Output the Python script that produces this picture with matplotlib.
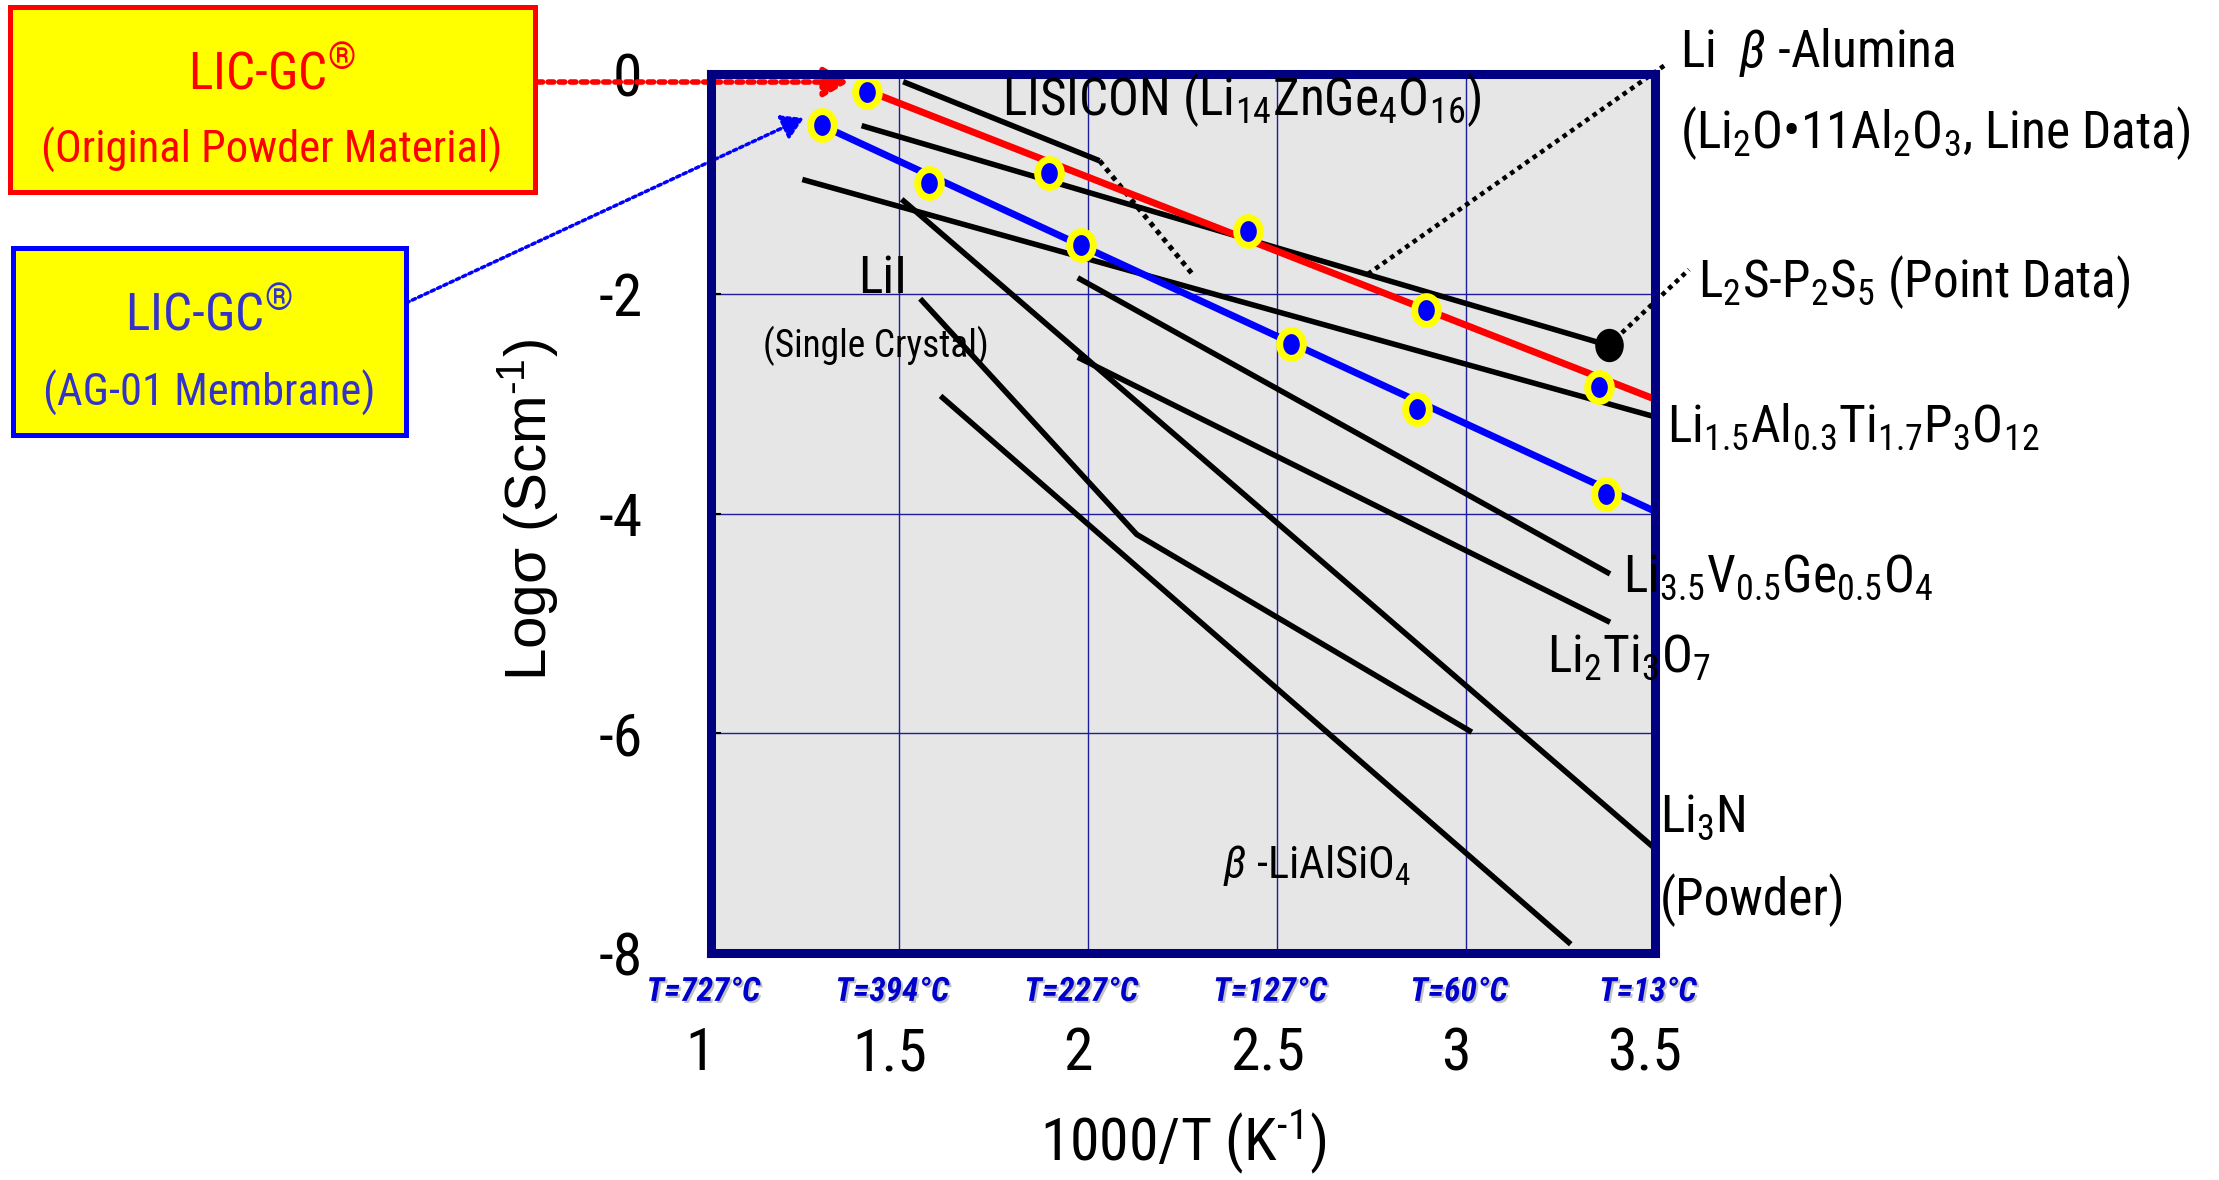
import matplotlib
matplotlib.use('Agg')
import matplotlib.pyplot as plt
import numpy as np
from matplotlib import font_manager as fm
from matplotlib.transforms import ScaledTranslation
from matplotlib.path import Path
import matplotlib.patheffects as pe
from matplotlib.patches import Rectangle

# ---------------- data ----------------
x_ticks = [1, 1.5, 2, 2.5, 3, 3.5]
x_tick_labels = ['1', '1.5', '2', '2.5', '3', '3.5']
y_ticks = [0, -2, -4, -6, -8]
y_tick_labels = ['0', '-2', '-4', '-6', '-8']
temp_labels_c = [727, 394, 227, 127, 60, 13]

# LIC-GC original powder (red)
powder_pts_x = [1.414, 1.896, 2.424, 2.894, 3.351]
powder_pts_y = [-0.16, -0.90, -1.43, -2.15, -2.85]
powder_fit_x = [1.414, 3.5]
powder_fit_y = [-0.15, -2.96]

# LIC-GC AG-01 membrane (blue)
membrane_pts_x = [1.296, 1.578, 1.980, 2.536, 2.869, 3.371]
membrane_pts_y = [-0.46, -0.99, -1.56, -2.455, -3.05, -3.82]
membrane_fit_x = [1.296, 3.5]
membrane_fit_y = [-0.47, -3.98]

# literature lines (black)
lisicon_x = [1.51, 2.03]
lisicon_y = [-0.07, -0.79]
lisicon_ext_x = [2.03, 2.28]
lisicon_ext_y = [-0.79, -1.84]
alumina_x = [1.40, 3.377]
alumina_y = [-0.47, -2.47]
l2s_x = [3.377]
l2s_y = [-2.47]
latp_x = [1.243, 3.5]
latp_y = [-0.96, -3.12]
li3n_x = [1.506, 3.5]
li3n_y = [-1.14, -7.05]
lii_x = [1.555, 2.128, 3.015]
lii_y = [-2.045, -4.19, -5.99]
lvgo_x = [1.972, 3.381]
lvgo_y = [-1.855, -4.55]
lto_x = [1.972, 3.381]
lto_y = [-2.578, -4.99]
lialsio_x = [1.609, 3.277]
lialsio_y = [-2.93, -7.92]

# leader lines to outside labels
alumina_leader_x = [2.74, 3.53]
alumina_leader_y = [-1.82, 0.09]
l2s_leader_x = [3.377, 3.59]
l2s_leader_y = [-2.47, -1.78]

# ---------------- fonts ----------------
names = {f.name for f in fm.fontManager.ttflist}
NARROW = 'Roboto Condensed' if 'Roboto Condensed' in names else 'Liberation Sans'
plt.rcParams['font.family'] = [NARROW, 'DejaVu Sans']
plt.rcParams['mathtext.fontset'] = 'custom'
plt.rcParams['mathtext.rm'] = NARROW
plt.rcParams['mathtext.it'] = NARROW + ':italic'
plt.rcParams['mathtext.default'] = 'regular'
plt.rcParams['axes.unicode_minus'] = False

HY = '\u2010'  # hyphen used in superscripts (reference shows a short hyphen)

W, H = 2219, 1180
DPI = 100
fig = plt.figure(figsize=(W / DPI, H / DPI), dpi=DPI, facecolor='white')

L, R, T, B = 710.5, 1655.0, 74.0, 953.0
ax = fig.add_axes([L / W, 1 - B / H, (R - L) / W, (B - T) / H])
ax.set_xlim(1, 3.5)
ax.set_ylim(-8, 0)
ax.set_facecolor('#e6e6e6')

NAVY = '#000080'
for s in ax.spines.values():
    s.set_color(NAVY)
    s.set_linewidth(6.5)
    s.set_zorder(6)

ax.set_xticks(x_ticks)
ax.set_xticklabels(x_tick_labels, fontsize=43)
ax.set_yticks(y_ticks)
ax.set_yticklabels(y_tick_labels, fontsize=43)
ax.tick_params(axis='x', length=0, pad=52)
ax.tick_params(axis='y', direction='in', length=7, width=1.5, color='black', pad=49)
for lab in ax.get_xticklabels():
    lab.set_transform(lab.get_transform() + ScaledTranslation(-10 / DPI, 0, fig.dpi_scale_trans))

for gx in x_ticks[1:-1]:
    ax.axvline(gx, color='#1c1c9c', lw=1.0, zorder=1)
for gy in y_ticks[1:-1]:
    ax.axhline(gy, color='#1c1c9c', lw=1.0, zorder=1)

ax.set_xlabel('1000/T (K$^{' + HY + '1}$)', fontsize=43, labelpad=0)
ax.xaxis.set_label_coords(0.5, -0.176)
fig.text(527 / W, 1 - 510 / H, 'Log\u03c3 (Scm$^{' + HY + '1}$)', rotation=90, fontsize=42,
         family=['Liberation Sans', 'DejaVu Sans'], ha='center', va='center')

# temperature labels
for xv, tc in zip(x_ticks, temp_labels_c):
    ax.annotate(f'T={tc}\u00b0C', xy=(xv, 0), xycoords=('data', 'axes fraction'),
                xytext=(-5, -28), textcoords='offset points', ha='center', va='center',
                fontsize=24, style='italic', fontweight='bold', color='#0000cc', annotation_clip=False,
                path_effects=[pe.withSimplePatchShadow(offset=(1.5, -1.5), shadow_rgbFace='#888888', alpha=0.5)])

# elliptical marker (slightly taller than wide, as in the reference)
_c = Path.unit_circle()
ELL = Path(_c.vertices * np.array([0.85, 1.0]), _c.codes)

# black literature lines
BLW = 4.0
for xs, ys in [(lisicon_x, lisicon_y), (alumina_x, alumina_y), (latp_x, latp_y),
               (li3n_x, li3n_y), (lii_x, lii_y), (lvgo_x, lvgo_y), (lto_x, lto_y),
               (lialsio_x, lialsio_y)]:
    ax.plot(xs, ys, color='black', lw=BLW, solid_capstyle='butt', zorder=3)
ax.plot(lisicon_ext_x, lisicon_ext_y, color='black', lw=3.6, ls=(0, (1, 1)), zorder=3)
ax.plot(alumina_leader_x, alumina_leader_y, color='black', lw=3.3, ls=(0, (1, 1)), zorder=3, clip_on=False)
ax.plot(l2s_leader_x, l2s_leader_y, color='black', lw=3.3, ls=(0, (1, 1)), zorder=3, clip_on=False)
ax.plot(l2s_x, l2s_y, marker=ELL, ls='none', color='black', ms=23, zorder=5)

# LIC-GC series
ax.plot(powder_fit_x, powder_fit_y, color='#ff0000', lw=5.0, solid_capstyle='butt', zorder=4)
ax.plot(membrane_fit_x, membrane_fit_y, color='#0000ff', lw=5.0, solid_capstyle='butt', zorder=4)
ax.plot(powder_pts_x, powder_pts_y, marker=ELL, ls='none', ms=20, mfc='#0000ff', mec='#ffff00', mew=5, zorder=5)
ax.plot(membrane_pts_x, membrane_pts_y, marker=ELL, ls='none', ms=20, mfc='#0000ff', mec='#ffff00', mew=5, zorder=5)


# callout boxes
def fx(X):
    return X / W


def fy(Y):
    return 1 - Y / H


fig.patches.append(Rectangle((fx(10), fy(192)), (535 - 10) / W, (192 - 7) / H, transform=fig.transFigure,
                             facecolor='#ffff00', edgecolor='#ff0000', lw=3.6, zorder=2))
fig.patches.append(Rectangle((fx(13), fy(435)), (406 - 13) / W, (435 - 248) / H, transform=fig.transFigure,
                             facecolor='#ffff00', edgecolor='#0000ff', lw=3.6, zorder=2))
fig.text(fx(272), fy(90), 'LIC-GC$^{\u00ae}$', color='#ff0000', fontsize=37, ha='center', va='baseline')
fig.text(fx(272), fy(163), '(Original Powder Material)', color='#ff0000', fontsize=32, ha='center', va='baseline')
fig.text(fx(209), fy(331), 'LIC-GC$^{\u00ae}$', color='#3333cc', fontsize=37, ha='center', va='baseline')
fig.text(fx(209), fy(406), '(AG-01 Membrane)', color='#3333cc', fontsize=32, ha='center', va='baseline')

# arrows from boxes
ax.annotate('', xy=(1.365, -0.073), xycoords='data', xytext=(537, H - 82), textcoords='figure pixels',
            annotation_clip=False,
            arrowprops=dict(arrowstyle='-|>,head_length=0.5,head_width=0.3', mutation_scale=30,
                            color='#ff0000', lw=4, ls=(0, (1, 1)), shrinkA=0, shrinkB=0))
ax.annotate('', xy=(1.247, -0.40), xycoords='data', xytext=(406, H - 303), textcoords='figure pixels',
            annotation_clip=False,
            arrowprops=dict(arrowstyle='-|>,head_length=0.5,head_width=0.3', mutation_scale=26,
                            color='#0000ff', lw=2.5, ls=(0, (1, 1)), shrinkA=0, shrinkB=0))

# labels
lab = dict(color='black', ha='left', va='baseline', zorder=10)
fig.text(fx(1680), fy(67), 'Li  $\\mathit{\u03b2}$ -Alumina', fontsize=37, **lab)
fig.text(fx(1680), fy(148), '(Li$_2$O\u202211Al$_2$O$_3$, Line Data)', fontsize=37, **lab)
fig.text(fx(1698), fy(297), 'L$_2$S-P$_2$S$_5$ (Point Data)', fontsize=37, **lab)
fig.text(fx(1667), fy(442), 'Li$_{1.5}$Al$_{0.3}$Ti$_{1.7}$P$_3$O$_{12}$', fontsize=37, **lab)
fig.text(fx(1623), fy(592), 'Li$_{3.5}$V$_{0.5}$Ge$_{0.5}$O$_4$', fontsize=37, **lab)
fig.text(fx(1547), fy(672), 'Li$_2$Ti$_3$O$_7$', fontsize=37, **lab)
fig.text(fx(1660), fy(832), 'Li$_3$N', fontsize=37, **lab)
fig.text(fx(1660), fy(915), '(Powder)', fontsize=37, **lab)
fig.text(fx(1002), fy(115), 'LISICON (Li$_{14}$ZnGe$_4$O$_{16}$)', fontsize=37, **lab)
fig.text(fx(858), fy(293), 'LiI', fontsize=37, **lab)
fig.text(fx(763), fy(357), '(Single Crystal)', fontsize=27, **lab)
fig.text(fx(1223), fy(878), '$\\mathit{\u03b2}$ -LiAlSiO$_4$', fontsize=32, **lab)

fig.savefig('out.png', dpi=DPI, facecolor='white')
